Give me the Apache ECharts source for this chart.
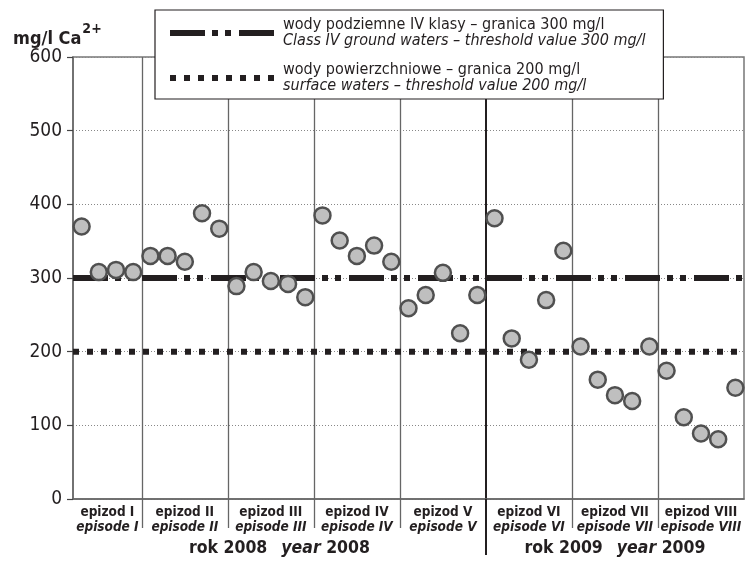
<!DOCTYPE html>
<html>
<head>
<meta charset="utf-8">
<script src="https://cdn.jsdelivr.net/npm/echarts@6/dist/echarts.min.js"></script>
<style>
  html, body { margin: 0; padding: 0; background: #fff; }
  #chart { width: 751px; height: 561px; }
</style>
</head>
<body>
<div id="chart"></div>
<script>
// epizody pomiarowe (episodes)
var episodesPL = ['epizod I', 'epizod II', 'epizod III', 'epizod IV', 'epizod V', 'epizod VI', 'epizod VII', 'epizod VIII'];
var episodesEN = ['episode I', 'episode II', 'episode III', 'episode IV', 'episode V', 'episode VI', 'episode VII', 'episode VIII'];
var episodeYear = [2008, 2008, 2008, 2008, 2008, 2009, 2009, 2009];

// Ca2+ mg/l, one array per episode
var ep1 = [370, 308, 311, 308];
var ep2 = [330, 330, 322, 388, 367];
var ep3 = [289, 308, 296, 292, 274];
var ep4 = [385, 351, 330, 344, 322];
var ep5 = [259, 277, 307, 225, 277];
var ep6 = [381, 218, 189, 270, 337];
var ep7 = [207, 162, 141, 133, 207];
var ep8 = [174, 111, 89, 81, 151];
var episodeValues = [ep1, ep2, ep3, ep4, ep5, ep6, ep7, ep8];

// progi (thresholds)
var groundLimit = 300;
var surfaceLimit = 200;
var yTicks = [0, 100, 200, 300, 400, 500, 600];

var legendPL = ['wody podziemne IV klasy \u2013 granica 300 mg/l', 'wody powierzchniowe \u2013 granica 200 mg/l'];
var legendEN = ['Class IV ground waters \u2013 threshold value 300 mg/l', 'surface waters \u2013 threshold value 200 mg/l'];

var FONT = '"Liberation Sans Narrow", "Arial Narrow", "DejaVu Sans Condensed", "Roboto Condensed", sans-serif';

// slot positions on the x axis: one slot per sample
var points = [];
var boundaries = [];   // divider between episodes
var epCenters = [];
var yearRanges = {};
var pos = 0;
episodeValues.forEach(function (vals, e) {
  var start = pos;
  vals.forEach(function (v) {
    points.push([pos + 0.5, v]);
    pos++;
  });
  epCenters.push((start + pos) / 2);
  if (e < episodeValues.length - 1) boundaries.push(pos);
  var yr = episodeYear[e];
  if (!yearRanges[yr]) yearRanges[yr] = [start, pos];
  yearRanges[yr][1] = pos;
});
var totalSlots = pos;

var yearDivider = [];
var episodeDividers = [];
boundaries.forEach(function (b, i) {
  if (episodeYear[i] !== episodeYear[i + 1]) yearDivider.push(b);
  else episodeDividers.push(b);
});
var years = Object.keys(yearRanges);
var yearCenters = years.map(function (y) { return (yearRanges[y][0] + yearRanges[y][1]) / 2; });

var chart = echarts.init(document.getElementById('chart'));

var option = {
  animation: false,
  textStyle: { fontFamily: FONT },
  title: {
    left: 8,
    top: 17,
    text: '{a|mg/l Ca}{s|2+}',
    textStyle: {
      rich: {
        a: { fontFamily: FONT, fontSize: 18, fontWeight: 'bold', color: '#231f20', verticalAlign: 'bottom' },
        s: { fontFamily: FONT, fontSize: 14, fontWeight: 'bold', color: '#231f20', verticalAlign: 'bottom', padding: [0, 0, 12, 1] }
      }
    }
  },
  legend: {
    orient: 'vertical',
    left: 155,
    top: 10,
    padding: [7, 18, 5, 12],
    itemGap: 13,
    itemWidth: 104,
    itemHeight: 14,
    backgroundColor: '#fff',
    borderColor: '#231f20',
    borderWidth: 1.2,
    borderRadius: 0,
    lineStyle: { width: 6 },
    itemStyle: { opacity: 0 },
    data: [legendPL[0], legendPL[1]],
    formatter: function (name) {
      var i = legendPL.indexOf(name);
      return '{a|' + legendPL[i] + '}\n{b|' + legendEN[i] + '}';
    },
    textStyle: {
      padding: [0, 0, 0, 4],
      rich: {
        a: { fontFamily: FONT, fontSize: 16, lineHeight: 16, color: '#231f20' },
        b: { fontFamily: FONT, fontSize: 16, lineHeight: 16, fontStyle: 'italic', color: '#231f20' }
      }
    }
  },
  grid: {
    left: 73, right: 7, top: 57, bottom: 62,
    show: true,
    borderColor: '#777',
    borderWidth: 1.5
  },
  xAxis: [{
    type: 'value',
    min: 0,
    max: totalSlots,
    axisLine: { show: true, lineStyle: { color: '#666', width: 1.5 } },
    axisTick: {
      show: true,
      customValues: episodeDividers,
      length: 29,
      lineStyle: { color: '#666', width: 1.3 }
    },
    splitLine: { show: true, lineStyle: { color: '#666', width: 1.3 } },
    axisLabel: {
      customValues: epCenters,
      margin: 6,
      hideOverlap: false,
      showMinLabel: true,
      showMaxLabel: true,
      formatter: function (v) {
        var i = epCenters.indexOf(v);
        return '{a|' + episodesPL[i] + '}\n{b|' + episodesEN[i] + '}';
      },
      rich: {
        a: { fontFamily: FONT, fontSize: 13.5, lineHeight: 15, fontWeight: 'bold', color: '#231f20' },
        b: { fontFamily: FONT, fontSize: 13.5, lineHeight: 15, fontWeight: 'bold', fontStyle: 'italic', color: '#231f20' }
      }
    }
  }, {
    // rok / year
    type: 'value',
    min: 0,
    max: totalSlots,
    position: 'bottom',
    gridIndex: 0,
    axisLine: { show: false },
    axisTick: {
      show: true,
      customValues: yearDivider,
      length: 56,
      lineStyle: { color: '#231f20', width: 2 }
    },
    splitLine: { show: true, lineStyle: { color: '#231f20', width: 2 } },
    axisLabel: {
      customValues: yearCenters,
      margin: 40,
      hideOverlap: false,
      formatter: function (v) {
        var y = years[yearCenters.indexOf(v)];
        return '{r|rok ' + y + '}{g| }{y|year}{r| ' + y + '}';
      },
      rich: {
        r: { fontFamily: FONT, fontSize: 17.5, fontWeight: 'bold', color: '#231f20' },
        g: { fontFamily: FONT, fontSize: 17.5, width: 14 },
        y: { fontFamily: FONT, fontSize: 17.5, fontWeight: 'bold', fontStyle: 'italic', color: '#231f20' }
      }
    }
  }],
  yAxis: {
    type: 'value',
    min: yTicks[0],
    max: yTicks[yTicks.length - 1],
    interval: 100,
    axisLine: { show: true, lineStyle: { color: '#666', width: 1.5 } },
    axisTick: { show: true, length: 6, lineStyle: { color: '#444', width: 1.2 } },
    axisLabel: { margin: 11, fontSize: 19, color: '#231f20', fontFamily: FONT },
    splitLine: { show: true, lineStyle: { color: '#888', width: 1, type: [1, 2] } }
  },
  series: [{
    name: legendPL[0],
    type: 'line',
    symbol: 'none',
    data: [[0, groundLimit], [totalSlots, groundLimit]],
    lineStyle: { color: '#231f20', width: 6, type: [35, 7, 6, 7, 6, 8], cap: 'butt' },
    z: 2
  }, {
    name: legendPL[1],
    type: 'line',
    symbol: 'none',
    data: [[0, surfaceLimit], [totalSlots, surfaceLimit]],
    lineStyle: { color: '#231f20', width: 6, type: [6, 8], cap: 'butt' },
    z: 2
  }, {
    name: 'Ca',
    type: 'scatter',
    data: points,
    symbol: 'circle',
    symbolSize: 16,
    itemStyle: { color: '#bfbfbf', borderColor: '#505050', borderWidth: 2.5, opacity: 1 },
    z: 5
  }]
};

chart.setOption(option);
</script>
</body>
</html>
